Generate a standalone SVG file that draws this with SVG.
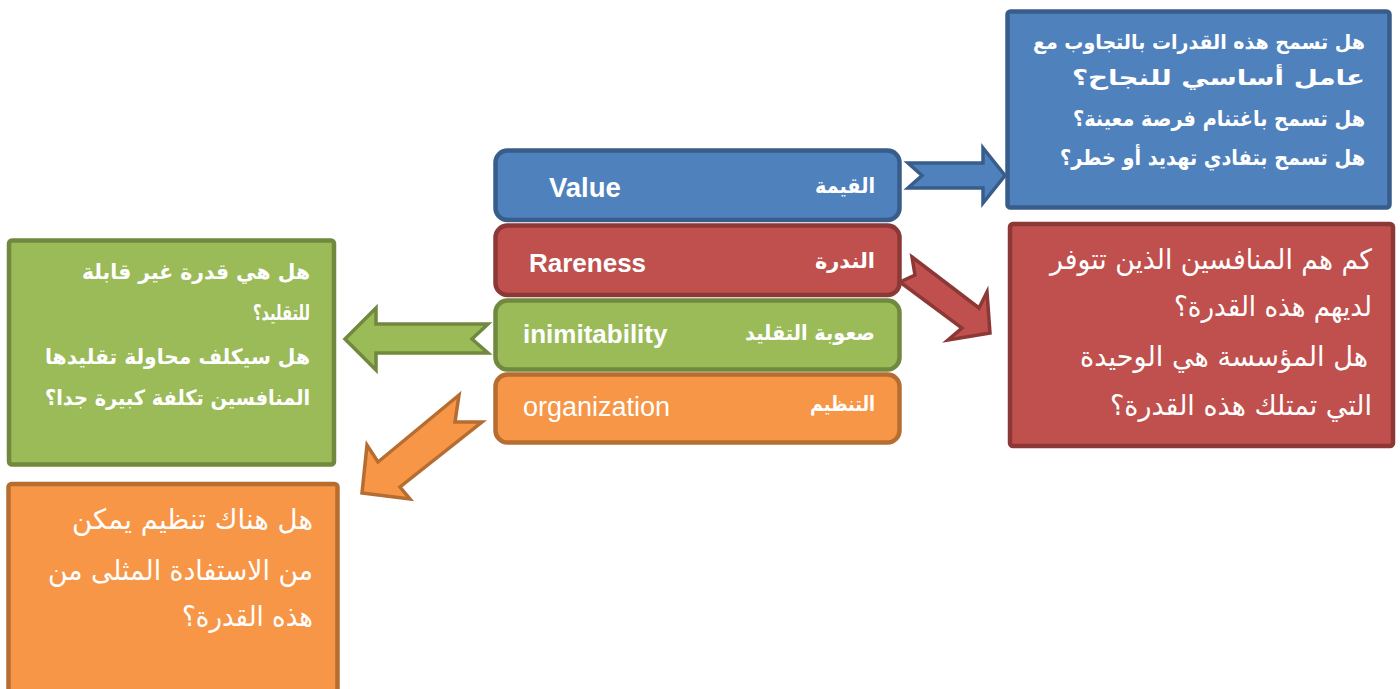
<svg xmlns="http://www.w3.org/2000/svg" width="1400" height="689" viewBox="0 0 1400 689">
<style>
.blue{fill:#4F81BD;stroke:#385D8A}
.red{fill:#C0504D;stroke:#8C3836}
.green{fill:#9BBB59;stroke:#71893F}
.orange{fill:#F79646;stroke:#B66D31}
.box{stroke-width:4.5}
.arr{stroke-width:3.5;stroke-linejoin:miter}
.en{font-family:"Liberation Sans",Arial,sans-serif;fill:#fff;font-size:26px}
.b{font-weight:bold}
.ar{font-family:"DejaVu Sans","Noto Sans",sans-serif;fill:#fff;text-anchor:end}
.lab{font-size:21px;font-weight:bold}
.q1{font-size:21.5px;font-weight:bold}
.q3{font-size:21px;font-weight:bold}
.q2{font-size:28px}
</style>
<rect width="1400" height="689" fill="#fff"/>
<g id="connectors">
<polygon class="blue arr" points="908,163 983,163 983,148 1005,175.5 983,203 983,188 908,188 922,175.5"/>
<polygon class="green arr" points="488,324 376,324 376,308 345,339 376,370 376,353 488,353 472,339"/>
</g>
<g id="node-value">
<rect class="blue box" x="495.5" y="150.5" width="404" height="69.5" rx="12"/>
<text class="en b" x="549" y="197" style="font-size:27.5px">Value</text>
<text class="ar lab" x="875" y="193" textLength="60" lengthAdjust="spacingAndGlyphs">القيمة</text>
</g>
<g id="node-rareness">
<rect class="red box" x="495.5" y="225.5" width="404" height="69.5" rx="12"/>
<text class="en b" x="529" y="272">Rareness</text>
<text class="ar lab" x="875" y="268" textLength="60" lengthAdjust="spacingAndGlyphs">الندرة</text>
</g>
<g id="node-inimitability">
<rect class="green box" x="495.5" y="300.5" width="404" height="69" rx="12"/>
<text class="en b" x="523" y="343">inimitability</text>
<text class="ar lab" x="875" y="340" textLength="130" lengthAdjust="spacingAndGlyphs">صعوبة التقليد</text>
</g>
<g id="node-organization">
<rect class="orange box" x="495.5" y="374.5" width="404" height="68" rx="12"/>
<text class="en" x="523" y="416" style="font-size:27px">organization</text>
<text class="ar lab" x="875" y="411" textLength="65" lengthAdjust="spacingAndGlyphs">التنظيم</text>
</g>
<g id="connectors-over">
<polygon class="red arr" points="912,257 979,308 987,292 990,333 948,340 962,328 900,282 915,275"/>
<polygon class="orange arr" points="459,395 378,462 367,445 362,493 410,499 400,487 482,422 455,422"/>
</g>
<g id="node-value-q">
<rect class="blue box" x="1007.5" y="11.5" width="382" height="196" rx="3"/>
<text class="ar q1" x="1365" y="49" textLength="332" lengthAdjust="spacingAndGlyphs" style="font-size:20px">هل تسمح هذه القدرات بالتجاوب مع</text>
<text class="ar q1" x="1365" y="85" textLength="293" lengthAdjust="spacingAndGlyphs">عامل أساسي للنجاح؟</text>
<text class="ar q1" x="1365" y="126" textLength="292" lengthAdjust="spacingAndGlyphs">هل تسمح باغتنام فرصة معينة؟</text>
<text class="ar q1" x="1365" y="165" textLength="305" lengthAdjust="spacingAndGlyphs">هل تسمح بتفادي تهديد أو خطر؟</text>
</g>
<g id="node-rareness-q">
<rect class="red box" x="1010" y="224" width="383" height="222" rx="3"/>
<text class="ar q2" x="1372" y="269" textLength="322" lengthAdjust="spacingAndGlyphs">كم هم المنافسين الذين تتوفر</text>
<text class="ar q2" x="1372" y="316" textLength="198" lengthAdjust="spacingAndGlyphs">لديهم هذه القدرة؟</text>
<text class="ar q2" x="1368" y="366" textLength="288" lengthAdjust="spacingAndGlyphs">هل المؤسسة هي الوحيدة</text>
<text class="ar q2" x="1372" y="415" textLength="262" lengthAdjust="spacingAndGlyphs">التي تمتلك هذه القدرة؟</text>
</g>
<g id="node-inimitability-q">
<rect class="green box" x="9" y="240.5" width="325" height="224" rx="3"/>
<text class="ar q3" x="310" y="279" textLength="228" lengthAdjust="spacingAndGlyphs">هل هي قدرة غير قابلة</text>
<text class="ar q3" x="310" y="320" textLength="57" lengthAdjust="spacingAndGlyphs">للتقليد؟</text>
<text class="ar q3" x="310" y="364" textLength="265" lengthAdjust="spacingAndGlyphs">هل سيكلف محاولة تقليدها</text>
<text class="ar q3" x="310" y="405" textLength="265" lengthAdjust="spacingAndGlyphs">المنافسين تكلفة كبيرة جدا؟</text>
</g>
<g id="node-organization-q">
<rect class="orange box" x="8.5" y="484" width="329" height="230" rx="3"/>
<text class="ar q2" x="313" y="529" textLength="241" lengthAdjust="spacingAndGlyphs">هل هناك تنظيم يمكن</text>
<text class="ar q2" x="313" y="580" textLength="265" lengthAdjust="spacingAndGlyphs">من الاستفادة المثلى من</text>
<text class="ar q2" x="313" y="626" textLength="131" lengthAdjust="spacingAndGlyphs">هذه القدرة؟</text>
</g>
</svg>
